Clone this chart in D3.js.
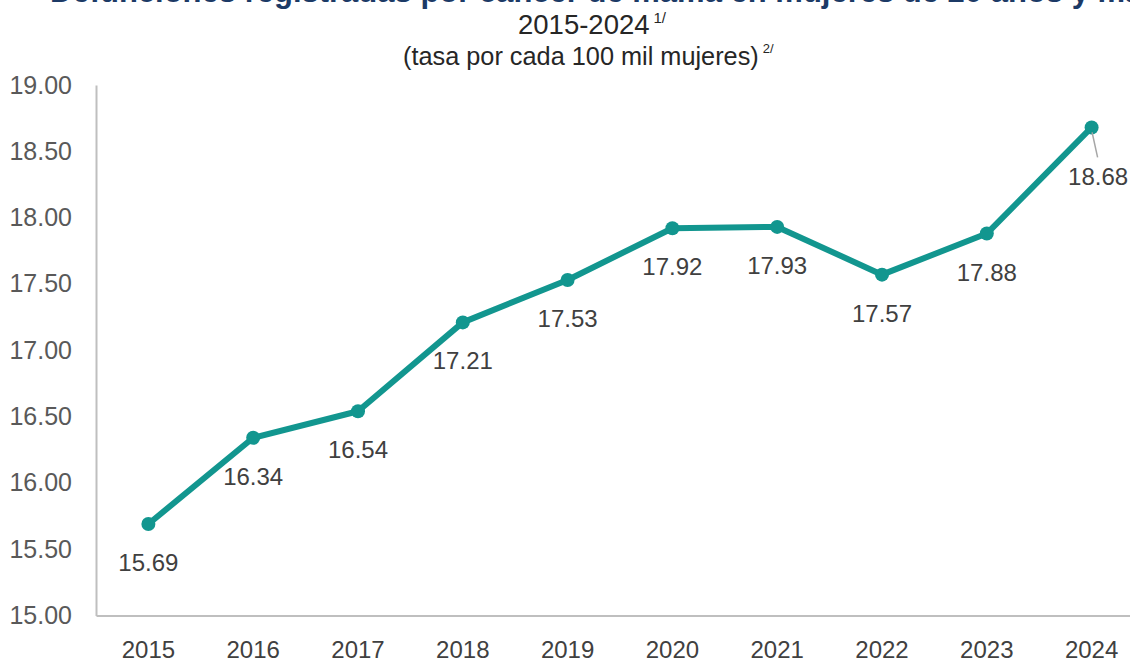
<!DOCTYPE html>
<html><head><meta charset="utf-8">
<script src="https://cdn.jsdelivr.net/npm/d3@7"></script>
<style>
html,body{margin:0;padding:0;background:#fff;overflow:hidden}
svg{display:block;font-family:"Liberation Sans",Arial,sans-serif}
</style></head><body>
<svg id="c" width="1130" height="660"></svg>
<script>
const years = ["2015","2016","2017","2018","2019","2020","2021","2022","2023","2024"];
const values = [15.69,16.34,16.54,17.21,17.53,17.92,17.93,17.57,17.88,18.68];
const yTicks = [15.00,15.50,16.00,16.50,17.00,17.50,18.00,18.50,19.00];
const titleText = "Defunciones registradas por cáncer de mama en mujeres de 20 años y más";
const periodText = "2015-2024";
const subtitleText = "(tasa por cada 100 mil mujeres)";

const svg = d3.select("#c");
const mLeft = 96, mRight = 1144, mTop = 85, mBottom = 615.5;

const x = d3.scaleBand().domain(years).range([mLeft, mRight]);
const y = d3.scaleLinear().domain([15, 19]).range([mBottom, mTop]);

// titles
svg.append("text").attr("x", 50).attr("y", 1.5).attr("text-anchor","start")
  .attr("font-size", 31).attr("font-weight","bold").attr("fill","#1c3a66").text(titleText);
const t2 = svg.append("text").attr("x", 518).attr("y", 34).attr("text-anchor","start")
  .attr("font-size", 27.5).attr("fill","#262626");
t2.append("tspan").text(periodText);
t2.append("tspan").attr("font-size", 15).attr("dy", -11).attr("dx", 4).text("1/");
const t3 = svg.append("text").attr("x", 403).attr("y", 65).attr("text-anchor","start")
  .attr("font-size", 25.3).attr("fill","#262626");
t3.append("tspan").text(subtitleText);
t3.append("tspan").attr("font-size", 13).attr("dy", -12).attr("dx", 4).text("2/");

// axes
const yAxis = d3.axisLeft(y).tickValues(yTicks).tickFormat(d3.format(".2f")).tickSize(0).tickPadding(24);
const gy = svg.append("g").attr("transform", `translate(${mLeft},0)`).call(yAxis);
gy.select(".domain").attr("stroke","#bfbfbf").attr("stroke-width",2);
gy.selectAll("text").attr("font-size", 25).attr("fill","#595959")
  .attr("font-family","'Liberation Sans',Arial,sans-serif");

const xAxis = d3.axisBottom(x).tickSize(0).tickPadding(25);
const gx = svg.append("g").attr("transform", `translate(0,${mBottom})`).call(xAxis);
gx.select(".domain").attr("stroke","#bfbfbf").attr("stroke-width",2);
gx.selectAll("text").attr("font-size", 24).attr("fill","#404040")
  .attr("font-family","'Liberation Sans',Arial,sans-serif");

const cx = d => x(d) + x.bandwidth()/2;
const data = years.map((yr,i)=>({yr, v: values[i]}));

svg.append("path").datum(data)
  .attr("fill","none").attr("stroke","#12968f").attr("stroke-width",6).attr("stroke-linejoin","round")
  .attr("d", d3.line().x(d=>cx(d.yr)).y(d=>y(d.v)));

svg.selectAll("circle.pt").data(data).join("circle")
  .attr("cx", d=>cx(d.yr)).attr("cy", d=>y(d.v)).attr("r", 7).attr("fill","#12968f");

// leader line for last label
const last = data[data.length-1];
svg.append("line").attr("x1", cx(last.yr)+0.5).attr("y1", y(last.v)+5)
  .attr("x2", cx(last.yr)+6).attr("y2", y(last.v)+30).attr("stroke","#a6a6a6").attr("stroke-width",1.5);

svg.selectAll("text.lbl").data(data).join("text").attr("class","lbl")
  .attr("x", (d,i)=> cx(d.yr) + (i===data.length-1 ? 6.5 : 0))
  .attr("y", (d,i)=> y(d.v) + (i===data.length-1 ? 58 : 47))
  .attr("text-anchor","middle").attr("font-size", 24).attr("fill","#404040")
  .text(d=>d.v.toFixed(2));
</script>
</body></html>
